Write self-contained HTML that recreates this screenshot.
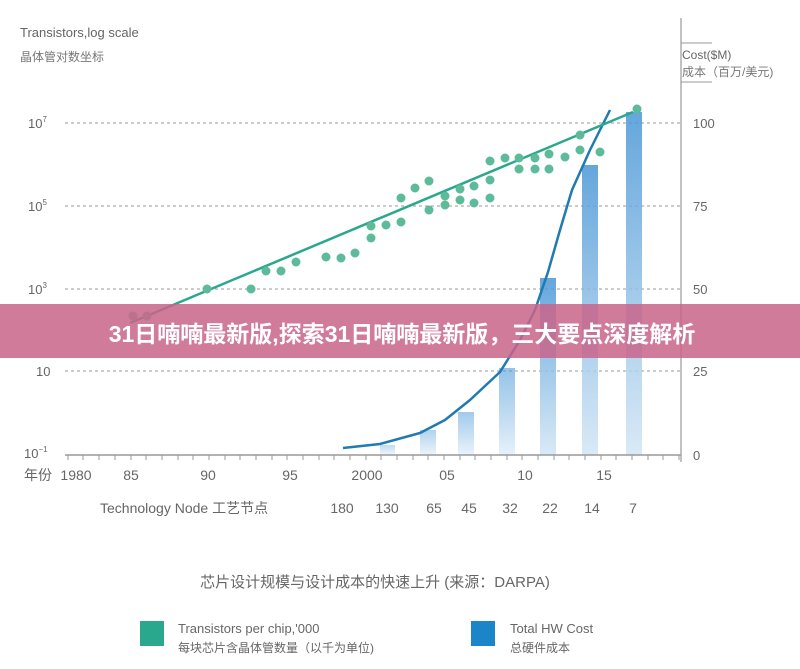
<!DOCTYPE html>
<html><head><meta charset="utf-8"><style>
body{margin:0;background:#fff;}
svg text{font-family:"Liberation Sans","Noto Sans CJK SC",sans-serif;}
</style></head><body>
<svg width="800" height="664" viewBox="0 0 800 664" xmlns="http://www.w3.org/2000/svg">
<defs>
<linearGradient id="bg" x1="0" y1="0" x2="0" y2="1">
<stop offset="0" stop-color="#4a97d6"/><stop offset="1" stop-color="#d3e6f6"/>
</linearGradient>
</defs>
<rect width="800" height="664" fill="#fff"/>
<text x="20" y="37" font-size="13" fill="#666">Transistors,log scale</text>
<text x="20" y="61" font-size="12" fill="#777">晶体管对数坐标</text>
<text x="682" y="59" font-size="12" fill="#666">Cost($M)</text>
<text x="682" y="76" font-size="12" fill="#777">成本（百万/美元)</text>
<line x1="681" y1="18" x2="681" y2="462" stroke="#999" stroke-width="1.2"/>
<line x1="681" y1="43" x2="712" y2="43" stroke="#999"/>
<line x1="681" y1="82" x2="712" y2="82" stroke="#999"/>
<g stroke="#999" stroke-dasharray="3,3" stroke-width="1">
<line x1="65" y1="123" x2="681" y2="123"/>
<line x1="65" y1="206" x2="681" y2="206"/>
<line x1="65" y1="289" x2="681" y2="289"/>
<line x1="65" y1="371" x2="681" y2="371"/>
</g>
<g font-size="13" fill="#666">
<text x="28" y="128">10<tspan font-size="8" dy="-6">7</tspan></text>
<text x="28" y="211">10<tspan font-size="8" dy="-6">5</tspan></text>
<text x="28" y="294">10<tspan font-size="8" dy="-6">3</tspan></text>
<text x="36" y="376">10</text>
<text x="24" y="458">10<tspan font-size="8" dy="-6">−1</tspan></text>
<text x="693" y="128">100</text>
<text x="693" y="211">75</text>
<text x="693" y="294">50</text>
<text x="693" y="376">25</text>
<text x="693" y="460">0</text>
</g>
<!-- bars -->
<g fill="url(#bg)" opacity="0.85">
<rect x="380" y="445" width="15" height="10" opacity="0.4"/>
<rect x="420" y="430" width="16" height="25" opacity="0.5"/>
<rect x="458" y="412" width="16" height="43" opacity="0.6"/>
<rect x="499" y="368" width="16" height="87" opacity="0.7"/>
<rect x="540" y="278" width="16" height="177"/>
<rect x="582" y="165" width="16" height="290"/>
<rect x="626" y="112" width="16" height="343"/>
</g>
<line x1="65" y1="455" x2="681" y2="455" stroke="#999" stroke-width="1.5"/>
<g stroke="#999" stroke-width="1">
<path d="M68 455v5M83 455v5M99 455v5M115 455v5M131 455v5M146 455v5M162 455v5M178 455v5M193 455v5M209 455v5M225 455v5M240 455v5M256 455v5M272 455v5M287 455v5M303 455v5M319 455v5M334 455v5M350 455v5M366 455v5M381 455v5M397 455v5M413 455v5M428 455v5M444 455v5M460 455v5M475 455v5M491 455v5M507 455v5M522 455v5M538 455v5M554 455v5M569 455v5M585 455v5M601 455v5M616 455v5M632 455v5M648 455v5M663 455v5M679 455v5"/>
</g>
<!-- cost curve -->
<polyline points="343,448 380,444 420,433 445,420 470,400 500,372 520,340 535,310 548,272 560,230 572,190 590,150 610,110" fill="none" stroke="#1f7bb0" stroke-width="2.5" stroke-linejoin="round"/>
<!-- trend line -->
<line x1="130" y1="323" x2="633" y2="112" stroke="#2aa88e" stroke-width="2.5"/>
<g fill="#5dbb99">
<circle cx="133" cy="316" r="4.5"/><circle cx="147" cy="316" r="4.5"/><circle cx="207" cy="289" r="4.5"/><circle cx="251" cy="289" r="4.5"/>
<circle cx="266" cy="271" r="4.5"/><circle cx="281" cy="271" r="4.5"/><circle cx="296" cy="262" r="4.5"/><circle cx="326" cy="257" r="4.5"/>
<circle cx="341" cy="258" r="4.5"/><circle cx="355" cy="253" r="4.5"/><circle cx="371" cy="226" r="4.5"/><circle cx="371" cy="238" r="4.5"/>
<circle cx="386" cy="225" r="4.5"/><circle cx="401" cy="222" r="4.5"/><circle cx="401" cy="198" r="4.5"/><circle cx="415" cy="188" r="4.5"/>
<circle cx="429" cy="181" r="4.5"/><circle cx="429" cy="210" r="4.5"/><circle cx="445" cy="205" r="4.5"/><circle cx="445" cy="196" r="4.5"/>
<circle cx="460" cy="189" r="4.5"/><circle cx="460" cy="200" r="4.5"/><circle cx="474" cy="203" r="4.5"/><circle cx="474" cy="186" r="4.5"/>
<circle cx="490" cy="161" r="4.5"/><circle cx="490" cy="198" r="4.5"/><circle cx="490" cy="180" r="4.5"/><circle cx="505" cy="158" r="4.5"/>
<circle cx="519" cy="158" r="4.5"/><circle cx="519" cy="169" r="4.5"/><circle cx="535" cy="158" r="4.5"/><circle cx="535" cy="169" r="4.5"/>
<circle cx="549" cy="169" r="4.5"/><circle cx="549" cy="154" r="4.5"/><circle cx="565" cy="157" r="4.5"/><circle cx="580" cy="135" r="4.5"/>
<circle cx="580" cy="150" r="4.5"/><circle cx="600" cy="152" r="4.5"/><circle cx="637" cy="109" r="4.5"/>
</g>
<g font-size="14" fill="#666" text-anchor="middle">
<text x="38" y="480">年份</text>
<text x="76" y="480">1980</text><text x="131" y="480">85</text><text x="208" y="480">90</text><text x="290" y="480">95</text>
<text x="367" y="480">2000</text><text x="447" y="480">05</text><text x="525" y="480">10</text><text x="604" y="480">15</text>
<text x="342" y="513">180</text><text x="387" y="513">130</text><text x="434" y="513">65</text><text x="469" y="513">45</text>
<text x="510" y="513">32</text><text x="550" y="513">22</text><text x="592" y="513">14</text><text x="633" y="513">7</text>
</g>
<text x="100" y="513" font-size="14" fill="#666">Technology Node 工艺节点</text>
<text x="375" y="587" font-size="15" fill="#666" text-anchor="middle">芯片设计规模与设计成本的快速上升 (来源：DARPA)</text>
<rect x="140" y="621" width="24" height="25" fill="#2aa88e"/>
<text x="178" y="633" font-size="13" fill="#666">Transistors per chip,'000</text>
<text x="178" y="652" font-size="12" fill="#666">每块芯片含晶体管数量（以千为单位)</text>
<rect x="471" y="621" width="24" height="25" fill="#1a85c8"/>
<text x="510" y="633" font-size="13" fill="#666">Total HW Cost</text>
<text x="510" y="652" font-size="12" fill="#666">总硬件成本</text>
<!-- banner -->
<rect x="0" y="304" width="800" height="54" fill="#c9648a" opacity="0.85"/>
<text x="402" y="342" font-size="23" font-weight="bold" fill="#fff" text-anchor="middle" font-family="'Liberation Sans','Noto Sans CJK SC',sans-serif">31日喃喃最新版,探索31日喃喃最新版，三大要点深度解析</text>
</svg>
</body></html>
